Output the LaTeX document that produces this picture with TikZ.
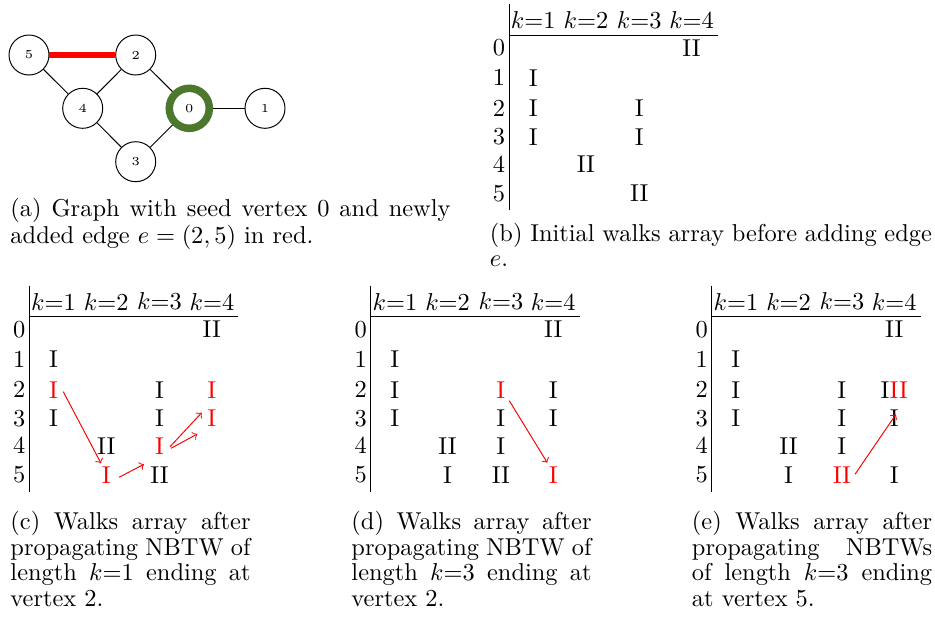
\documentclass[tikz,border=0pt]{standalone}
\usepackage{xcolor}
\definecolor{seedgreen}{RGB}{76,120,45}
\def\wcA{24.2}\def\wcB{76.9}\def\wcC{130.2}\def\wcD{182.6}
\def\wrA{12.5}\def\wrB{42.5}\def\wrC{73}\def\wrD{101.5}\def\wrE{129}\def\wrF{158}
\newcommand\walkframe[1]{%
  \draw[rule] (0,-31) -- (0,175);
  \draw[rule] (0,0) -- (209,0);
  \node[ent] (#1-h1) at (\wcA,-15) {$k$=1};
  \node[ent] (#1-h2) at (\wcB,-15) {$k$=2};
  \node[ent] (#1-h3) at (\wcC,-15) {$k$=3};
  \node[ent] (#1-h4) at (\wcD,-15) {$k$=4};
  \node[ent] (#1-l0) at (-10,\wrA) {0};
  \node[ent] (#1-l1) at (-10,\wrB) {1};
  \node[ent] (#1-l2) at (-10,\wrC) {2};
  \node[ent] (#1-l3) at (-10,\wrD) {3};
  \node[ent] (#1-l4) at (-10,\wrE) {4};
  \node[ent] (#1-l5) at (-10,\wrF) {5};
}
\begin{document}
\begin{tikzpicture}[x=0.4098pt,y=-0.4098pt,
  vtx/.style={circle,draw,line width=0.4pt,minimum size=16.4pt,inner sep=0pt,font=\fontsize{5}{6}\selectfont},
  seed/.style={vtx,draw=seedgreen,line width=3.1pt},
  gedge/.style={line width=0.4pt},
  newedge/.style={line width=2.45pt,red},
  rule/.style={line width=0.4pt},
  ent/.style={inner sep=0pt,font=\fontsize{10}{12}\selectfont},
  hot/.style={ent,text=red},
  captxt/.style={anchor=base west,inner sep=0pt,font=\fontsize{10}{10.6}\selectfont},
  arr/.style={->,red,line width=0.4pt}]
\useasboundingbox (0,0) rectangle (935,621);

% ---------- (a) graph ----------
\node[vtx] (v5) at (29,55) {5};
\node[vtx] (v2) at (135.7,55) {2};
\node[vtx] (v4) at (82.7,108.3) {4};
\node[seed] (v0) at (189.3,108.3) {0};
\node[vtx] (v1) at (265,108.3) {1};
\node[vtx] (v3) at (135.7,161.7) {3};
\draw[gedge] (v5) -- (v4);
\draw[gedge] (v4) -- (v2);
\draw[gedge] (v2) -- (v0);
\draw[gedge] (v4) -- (v3);
\draw[gedge] (v3) -- (v0);
\draw[gedge] (v0) -- (v1);
\draw[newedge] (v5) -- (v2);

\node[captxt] (capa1) at (10,216.7) {\makebox[180.3pt][s]{(a) Graph with seed vertex 0 and newly}};
\node[captxt] (capa2) at (10,243.3) {added edge $e=(2,5)$ in red.};

% ---------- (b) initial array ----------
\begin{scope}[shift={(509,35.3)}]
\walkframe{b}
\node[ent] (b-0-4) at (\wcD,\wrA) {II};
\node[ent] (b-1-1) at (\wcA,\wrB) {I};
\node[ent] (b-2-1) at (\wcA,\wrC) {I};
\node[ent] (b-2-3) at (\wcC,\wrC) {I};
\node[ent] (b-3-1) at (\wcA,\wrD) {I};
\node[ent] (b-3-3) at (\wcC,\wrD) {I};
\node[ent] (b-4-2) at (\wcB,\wrE) {II};
\node[ent] (b-5-3) at (\wcC,\wrF) {II};
\end{scope}
\node[captxt] (capb1) at (489.5,241.7) {\makebox[181.1pt][s]{(b) Initial walks array before adding edge}};
\node[captxt] (capb2) at (489.5,266.7) {$e$.};

% ---------- (c) ----------
\begin{scope}[shift={(29.3,316.7)}]
\walkframe{c}
\node[ent] (c-0-4) at (\wcD,\wrA) {II};
\node[ent] (c-1-1) at (\wcA,\wrB) {I};
\node[hot] (c-2-1) at (\wcA,\wrC) {I};
\node[ent] (c-2-3) at (\wcC,\wrC) {I};
\node[hot] (c-2-4) at (\wcD,\wrC) {I};
\node[ent] (c-3-1) at (\wcA,\wrD) {I};
\node[ent] (c-3-3) at (\wcC,\wrD) {I};
\node[hot] (c-3-4) at (\wcD,\wrD) {I};
\node[ent] (c-4-2) at (\wcB,\wrE) {II};
\node[hot] (c-4-3) at (\wcC,\wrE) {I};
\node[hot] (c-5-2) at (\wcB,\wrF) {I};
\node[ent] (c-5-3) at (\wcC,\wrF) {II};
\draw[arr] ([shift={(9.8,2)}]c-2-1.center) -- ([shift={(-5.2,-11.4)}]c-5-2.center);
\draw[arr] ([shift={(12.8,2.6)}]c-5-2.center) -- ([shift={(-15.5,-10.4)}]c-5-3.center);
\draw[arr] ([shift={(10.5,1)}]c-4-3.center) -- ([shift={(-10.2,-5.5)}]c-3-4.center);
\draw[arr] ([shift={(11.5,2.6)}]c-4-3.center) -- ([shift={(-14.6,15.8)}]c-3-4.center);
\end{scope}
\node[captxt] (capc1) at (10,529) {\makebox[98.4pt][s]{(c) Walks array after}};
\node[captxt] (capc2) at (10,555) {\makebox[98.4pt][s]{propagating NBTW of}};
\node[captxt] (capc3) at (10,580.5) {\makebox[98.4pt][s]{length $k$=1 ending at}};
\node[captxt] (capc4) at (10,606) {vertex 2.};

% ---------- (d) ----------
\begin{scope}[shift={(370.7,316.7)}]
\walkframe{d}
\node[ent] (d-0-4) at (\wcD,\wrA) {II};
\node[ent] (d-1-1) at (\wcA,\wrB) {I};
\node[ent] (d-2-1) at (\wcA,\wrC) {I};
\node[hot] (d-2-3) at (\wcC,\wrC) {I};
\node[ent] (d-2-4) at (\wcD,\wrC) {I};
\node[ent] (d-3-1) at (\wcA,\wrD) {I};
\node[ent] (d-3-3) at (\wcC,\wrD) {I};
\node[ent] (d-3-4) at (\wcD,\wrD) {I};
\node[ent] (d-4-2) at (\wcB,\wrE) {II};
\node[ent] (d-4-3) at (\wcC,\wrE) {I};
\node[ent] (d-5-2) at (\wcB,\wrF) {I};
\node[ent] (d-5-3) at (\wcC,\wrF) {II};
\node[hot] (d-5-4) at (\wcD,\wrF) {I};
\draw[arr] ([shift={(8.4,11)}]d-2-3.center) -- ([shift={(-6,-12)}]d-5-4.center);
\end{scope}
\node[captxt] (capd1) at (351,529) {\makebox[98.4pt][s]{(d) Walks array after}};
\node[captxt] (capd2) at (351,555) {\makebox[98.4pt][s]{propagating NBTW of}};
\node[captxt] (capd3) at (351,580.5) {\makebox[98.4pt][s]{length $k$=3 ending at}};
\node[captxt] (capd4) at (351,606) {vertex 2.};

% ---------- (e) ----------
\begin{scope}[shift={(711.7,316.7)}]
\walkframe{e}
\node[ent] (e-0-4) at (\wcD,\wrA) {II};
\node[ent] (e-1-1) at (\wcA,\wrB) {I};
\node[ent] (e-2-1) at (\wcA,\wrC) {I};
\node[ent] (e-2-3) at (\wcC,\wrC) {I};
\node[ent] (e-2-4) at (\wcD,\wrC) {I\textcolor{red}{II}};
\node[ent] (e-3-1) at (\wcA,\wrD) {I};
\node[ent] (e-3-3) at (\wcC,\wrD) {I};
\node[ent] (e-3-4) at (\wcD,\wrD) {I};
\node[ent] (e-4-2) at (\wcB,\wrE) {II};
\node[ent] (e-4-3) at (\wcC,\wrE) {I};
\node[ent] (e-5-2) at (\wcB,\wrF) {I};
\node[hot] (e-5-3) at (\wcC,\wrF) {II};
\node[ent] (e-5-4) at (\wcD,\wrF) {I};
\draw[arr] ([shift={(13.1,-0.4)}]e-5-3.center) -- ([shift={(1.7,-3.9)}]e-3-4.center);
\end{scope}
\node[captxt] (cape1) at (691.5,529) {\makebox[98.4pt][s]{(e) Walks array after}};
\node[captxt] (cape2) at (691.5,555) {\makebox[98.4pt][s]{propagating NBTWs}};
\node[captxt] (cape3) at (691.5,580.5) {\makebox[98.4pt][s]{of length $k$=3 ending}};
\node[captxt] (cape4) at (691.5,606) {at vertex 5.};
\end{tikzpicture}
\end{document}
